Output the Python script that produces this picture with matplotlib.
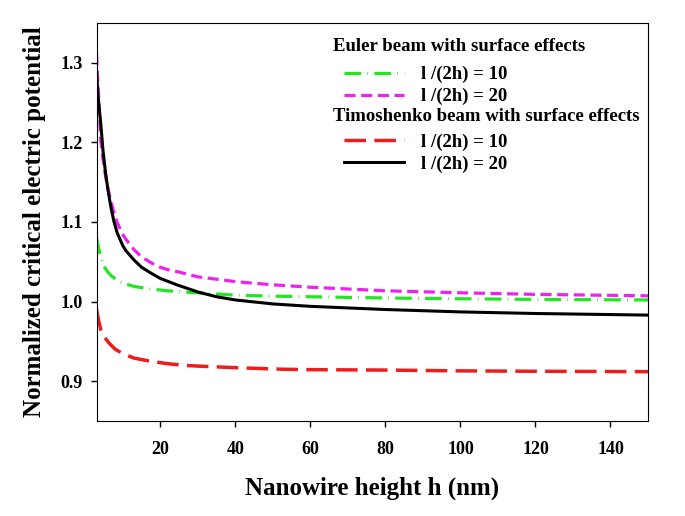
import matplotlib
matplotlib.use('Agg')
import matplotlib.pyplot as plt
from matplotlib.legend_handler import HandlerLine2D

plt.rcParams['font.family'] = 'Liberation Serif'
plt.rcParams['font.weight'] = 'bold'
plt.rcParams['lines.scale_dashes'] = False

# Euler beam, l/(2h) = 10
h_e10 = [3, 3.5, 4, 4.5, 5, 6, 7, 8.5, 10, 13, 17, 22, 26, 30, 40, 50, 60, 80, 100, 120, 150]
v_e10 = [1.080, 1.068, 1.058, 1.050, 1.044, 1.037, 1.032, 1.027, 1.023, 1.019, 1.016, 1.0135, 1.012,
         1.011, 1.008, 1.0068, 1.006, 1.0045, 1.0035, 1.0027, 1.002]
# Euler beam, l/(2h) = 20
h_e20 = [3, 3.2, 3.7, 4.1, 4.5, 5, 5.6, 6.3, 7.3, 8.5, 10, 11, 13, 15, 17.4, 20, 22, 25, 30, 35, 40,
         50, 60, 80, 100, 120, 150]
v_e20 = [1.311, 1.286, 1.244, 1.203, 1.186, 1.169, 1.152, 1.136, 1.117, 1.099, 1.084, 1.077, 1.065,
         1.056, 1.049, 1.043, 1.040, 1.037, 1.031, 1.028, 1.025, 1.021, 1.018, 1.0135, 1.011, 1.009,
         1.0072]
# Timoshenko beam, l/(2h) = 10
h_t10 = [3, 3.5, 4.1, 5, 6.3, 8, 10.3, 13, 17.4, 22, 26, 30, 40, 53, 60, 80, 100, 120, 150]
v_t10 = [0.990, 0.977, 0.965, 0.956, 0.948, 0.940, 0.934, 0.929, 0.925, 0.922, 0.920, 0.919,
         0.917, 0.915, 0.9145, 0.914, 0.913, 0.9125, 0.912]
# Timoshenko beam, l/(2h) = 20
h_t20 = [3, 3.4, 4.1, 4.7, 5.4, 6.1, 6.8, 7.6, 8.5, 10, 10.8, 13, 15, 17.4, 20, 24.4, 30, 35, 40,
         50, 60, 80, 100, 120, 150]
v_t20 = [1.288, 1.257, 1.224, 1.190, 1.161, 1.138, 1.119, 1.101, 1.086, 1.070, 1.064, 1.052, 1.043,
         1.036, 1.029, 1.021, 1.012, 1.006, 1.002, 0.997, 0.994, 0.990, 0.987, 0.985, 0.983]

fig = plt.figure(figsize=(6.85, 5.16), dpi=100)
ax = fig.add_axes([0.141, 0.184, 0.805, 0.772])

l1, = ax.plot(h_e10, v_e10, color='#22e622', lw=2.3, dashes=(12, 4.5, 0.5, 4.5), label='l /(2h) = 10')
l2, = ax.plot(h_e20, v_e20, color='#ee22ee', lw=2.3, dashes=(8, 4), label='l /(2h) = 20')
l3, = ax.plot(h_t10, v_t10, color='#ee1c1c', lw=2.5, dashes=(15.5, 6), label='l /(2h) = 10')
l4, = ax.plot(h_t20, v_t20, color='black', lw=2.2, label='l /(2h) = 20')

ax.set_xlim(3, 150)
ax.set_ylim(0.85, 1.35)
ax.set_xticks([20, 40, 60, 80, 100, 120, 140])
ax.set_yticks([0.9, 1.0, 1.1, 1.2, 1.3])
ax.tick_params(direction='out', length=4, width=1, labelsize=13)
ax.tick_params(axis='x', pad=10)
ax.tick_params(axis='y', pad=6)
ax.set_xlabel('Nanowire height h (nm)', fontsize=18, fontweight='bold', labelpad=14)
ax.set_ylabel('Normalized critical electric potential', fontsize=18, fontweight='bold', labelpad=10)

hm = {l: HandlerLine2D(numpoints=2, marker_pad=0.6) for l in (l1, l2, l3, l4)}
leg1 = ax.legend(handles=[l1, l2], title='Euler beam with surface effects', alignment='left',
                 frameon=False, fontsize=13.5, title_fontsize=13.5, handlelength=4.4,
                 handletextpad=0.3, labelspacing=0.25, borderpad=0, handler_map=hm,
                 loc='upper left', bbox_to_anchor=(0.412, 0.985))
leg1.get_title().set_fontweight('bold')
leg1._legend_box.sep = 8
ax.add_artist(leg1)
leg2 = ax.legend(handles=[l3, l4], title='Timoshenko beam with surface effects', alignment='left',
                 frameon=False, fontsize=13.5, title_fontsize=13.5, handlelength=4.4,
                 handletextpad=0.3, labelspacing=0.25, borderpad=0, handler_map=hm,
                 loc='upper left', bbox_to_anchor=(0.412, 0.809))
leg2.get_title().set_fontweight('bold')
leg2._legend_box.sep = 6

fig.savefig('out.png', dpi=100)
